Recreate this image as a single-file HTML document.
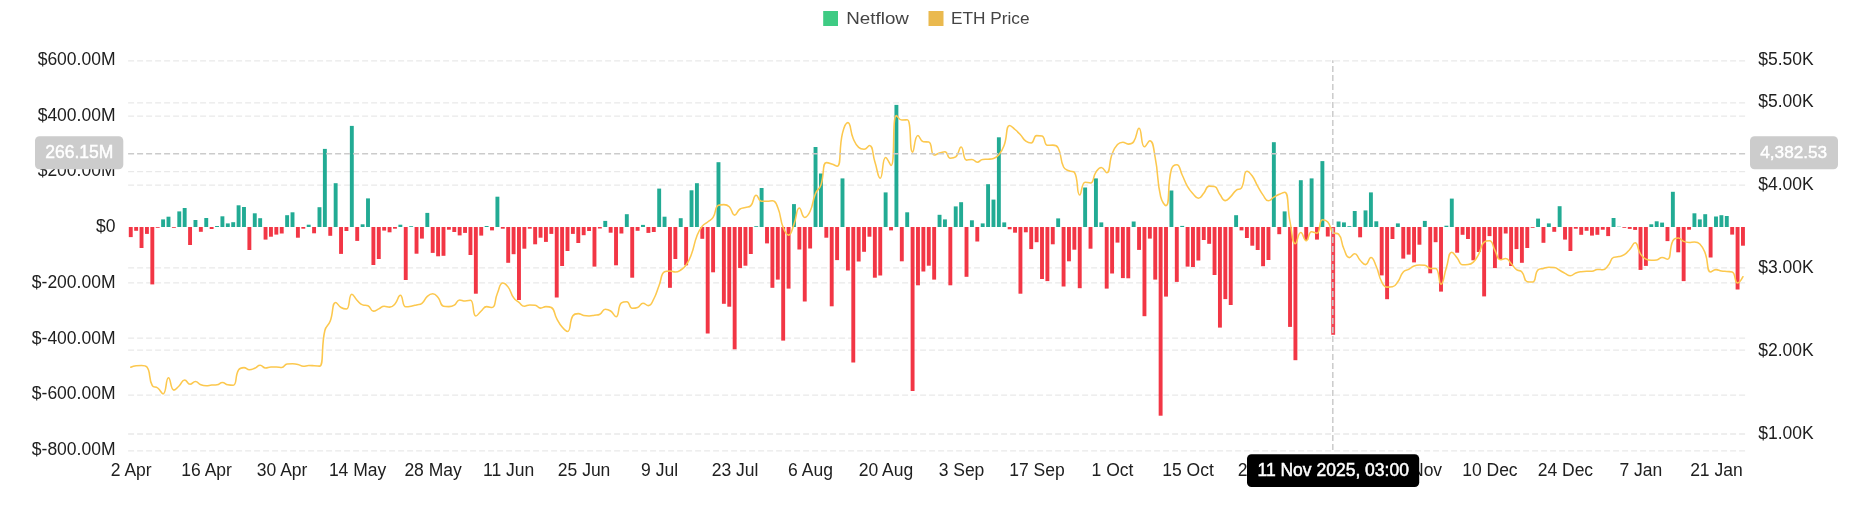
<!DOCTYPE html>
<html lang="en"><head><meta charset="utf-8"><title>Netflow / ETH Price</title>
<style>html,body{margin:0;padding:0;background:#fff;overflow:hidden}svg{display:block;will-change:transform}</style></head>
<body>
<svg width="1852" height="525" viewBox="0 0 1852 525" font-family='"Liberation Sans", Arial, Helvetica, sans-serif'>
<rect width="1852" height="525" fill="#fff"/>
<g stroke="#E9E9E9" stroke-width="1.3" stroke-dasharray="6 3" fill="none">
<path d="M128.1 60.8H1745.2"/>
<path d="M128.1 102.8H1745.2"/>
<path d="M128.1 116.2H1745.2"/>
<path d="M128.1 171.7H1745.2"/>
<path d="M128.1 185.2H1745.2"/>
<path d="M128.1 267.9H1745.2"/>
<path d="M128.1 282.8H1745.2"/>
<path d="M128.1 338.2H1745.2"/>
<path d="M128.1 350.1H1745.2"/>
<path d="M128.1 395.2H1745.2"/>
<path d="M128.1 434.0H1745.2"/>
<path d="M128.1 450.8H1745.2"/>
</g>
<g shape-rendering="auto">
<rect x="128.80" y="227.0" width="3.9" height="10.1" fill="#F23645"/>
<rect x="134.19" y="227.0" width="3.9" height="3.8" fill="#F23645"/>
<rect x="139.58" y="227.0" width="3.9" height="21.0" fill="#F23645"/>
<rect x="144.98" y="227.0" width="3.9" height="6.9" fill="#F23645"/>
<rect x="150.37" y="227.0" width="3.9" height="57.4" fill="#F23645"/>
<rect x="155.76" y="227.0" width="3.9" height="0.8" fill="#F23645"/>
<rect x="161.15" y="219.4" width="3.9" height="7.6" fill="#22AB94"/>
<rect x="166.54" y="216.7" width="3.9" height="10.3" fill="#22AB94"/>
<rect x="171.94" y="227.0" width="3.9" height="0.8" fill="#F23645"/>
<rect x="177.33" y="211.4" width="3.9" height="15.6" fill="#22AB94"/>
<rect x="182.72" y="208.0" width="3.9" height="19.0" fill="#22AB94"/>
<rect x="188.11" y="227.0" width="3.9" height="18.0" fill="#F23645"/>
<rect x="193.50" y="220.0" width="3.9" height="7.0" fill="#22AB94"/>
<rect x="198.90" y="227.0" width="3.9" height="4.8" fill="#F23645"/>
<rect x="204.29" y="218.0" width="3.9" height="9.0" fill="#22AB94"/>
<rect x="209.68" y="227.0" width="3.9" height="2.0" fill="#F23645"/>
<rect x="215.07" y="226.0" width="3.9" height="1.0" fill="#22AB94"/>
<rect x="220.46" y="216.3" width="3.9" height="10.7" fill="#22AB94"/>
<rect x="225.86" y="223.4" width="3.9" height="3.6" fill="#22AB94"/>
<rect x="231.25" y="222.2" width="3.9" height="4.8" fill="#22AB94"/>
<rect x="236.64" y="205.3" width="3.9" height="21.7" fill="#22AB94"/>
<rect x="242.03" y="207.0" width="3.9" height="20.0" fill="#22AB94"/>
<rect x="247.42" y="227.0" width="3.9" height="23.0" fill="#F23645"/>
<rect x="252.82" y="213.3" width="3.9" height="13.7" fill="#22AB94"/>
<rect x="258.21" y="218.2" width="3.9" height="8.8" fill="#22AB94"/>
<rect x="263.60" y="227.0" width="3.9" height="12.6" fill="#F23645"/>
<rect x="268.99" y="227.0" width="3.9" height="9.7" fill="#F23645"/>
<rect x="274.38" y="227.0" width="3.9" height="7.6" fill="#F23645"/>
<rect x="279.78" y="227.0" width="3.9" height="6.5" fill="#F23645"/>
<rect x="285.17" y="215.2" width="3.9" height="11.8" fill="#22AB94"/>
<rect x="290.56" y="212.3" width="3.9" height="14.7" fill="#22AB94"/>
<rect x="295.95" y="227.0" width="3.9" height="10.7" fill="#F23645"/>
<rect x="301.34" y="227.0" width="3.9" height="1.7" fill="#F23645"/>
<rect x="306.74" y="224.7" width="3.9" height="2.3" fill="#22AB94"/>
<rect x="312.13" y="227.0" width="3.9" height="6.3" fill="#F23645"/>
<rect x="317.52" y="207.2" width="3.9" height="19.8" fill="#22AB94"/>
<rect x="322.91" y="148.9" width="3.9" height="78.1" fill="#22AB94"/>
<rect x="328.30" y="227.0" width="3.9" height="8.8" fill="#F23645"/>
<rect x="333.70" y="183.2" width="3.9" height="43.8" fill="#22AB94"/>
<rect x="339.09" y="227.0" width="3.9" height="26.9" fill="#F23645"/>
<rect x="344.48" y="227.0" width="3.9" height="4.0" fill="#F23645"/>
<rect x="349.87" y="125.9" width="3.9" height="101.1" fill="#22AB94"/>
<rect x="355.26" y="227.0" width="3.9" height="13.9" fill="#F23645"/>
<rect x="360.66" y="224.3" width="3.9" height="2.7" fill="#22AB94"/>
<rect x="366.05" y="198.4" width="3.9" height="28.6" fill="#22AB94"/>
<rect x="371.44" y="227.0" width="3.9" height="38.0" fill="#F23645"/>
<rect x="376.83" y="227.0" width="3.9" height="32.0" fill="#F23645"/>
<rect x="382.22" y="227.0" width="3.9" height="3.6" fill="#F23645"/>
<rect x="387.62" y="227.0" width="3.9" height="5.3" fill="#F23645"/>
<rect x="393.01" y="227.0" width="3.9" height="1.7" fill="#F23645"/>
<rect x="398.40" y="224.7" width="3.9" height="2.3" fill="#22AB94"/>
<rect x="403.79" y="227.0" width="3.9" height="53.0" fill="#F23645"/>
<rect x="409.18" y="226.2" width="3.9" height="0.8" fill="#22AB94"/>
<rect x="414.58" y="227.0" width="3.9" height="26.7" fill="#F23645"/>
<rect x="419.97" y="227.0" width="3.9" height="11.6" fill="#F23645"/>
<rect x="425.36" y="212.9" width="3.9" height="14.1" fill="#22AB94"/>
<rect x="430.75" y="227.0" width="3.9" height="25.9" fill="#F23645"/>
<rect x="436.14" y="227.0" width="3.9" height="29.3" fill="#F23645"/>
<rect x="441.54" y="227.0" width="3.9" height="28.8" fill="#F23645"/>
<rect x="446.93" y="227.0" width="3.9" height="2.7" fill="#F23645"/>
<rect x="452.32" y="227.0" width="3.9" height="5.0" fill="#F23645"/>
<rect x="457.71" y="227.0" width="3.9" height="8.4" fill="#F23645"/>
<rect x="463.10" y="227.0" width="3.9" height="5.9" fill="#F23645"/>
<rect x="468.50" y="227.0" width="3.9" height="28.0" fill="#F23645"/>
<rect x="473.89" y="227.0" width="3.9" height="66.7" fill="#F23645"/>
<rect x="479.28" y="227.0" width="3.9" height="8.6" fill="#F23645"/>
<rect x="484.67" y="226.0" width="3.9" height="1.0" fill="#22AB94"/>
<rect x="490.06" y="227.0" width="3.9" height="3.4" fill="#F23645"/>
<rect x="495.46" y="196.7" width="3.9" height="30.3" fill="#22AB94"/>
<rect x="500.85" y="227.0" width="3.9" height="1.7" fill="#F23645"/>
<rect x="506.24" y="227.0" width="3.9" height="35.8" fill="#F23645"/>
<rect x="511.63" y="227.0" width="3.9" height="27.2" fill="#F23645"/>
<rect x="517.02" y="227.0" width="3.9" height="73.0" fill="#F23645"/>
<rect x="522.42" y="227.0" width="3.9" height="21.7" fill="#F23645"/>
<rect x="527.81" y="227.0" width="3.9" height="1.7" fill="#F23645"/>
<rect x="533.20" y="227.0" width="3.9" height="17.3" fill="#F23645"/>
<rect x="538.59" y="227.0" width="3.9" height="10.7" fill="#F23645"/>
<rect x="543.98" y="227.0" width="3.9" height="14.9" fill="#F23645"/>
<rect x="549.38" y="227.0" width="3.9" height="6.9" fill="#F23645"/>
<rect x="554.77" y="227.0" width="3.9" height="70.5" fill="#F23645"/>
<rect x="560.16" y="227.0" width="3.9" height="39.0" fill="#F23645"/>
<rect x="565.55" y="227.0" width="3.9" height="24.0" fill="#F23645"/>
<rect x="570.94" y="227.0" width="3.9" height="6.9" fill="#F23645"/>
<rect x="576.34" y="227.0" width="3.9" height="16.0" fill="#F23645"/>
<rect x="581.73" y="227.0" width="3.9" height="8.2" fill="#F23645"/>
<rect x="587.12" y="227.0" width="3.9" height="4.0" fill="#F23645"/>
<rect x="592.51" y="227.0" width="3.9" height="39.6" fill="#F23645"/>
<rect x="597.90" y="227.0" width="3.9" height="1.5" fill="#F23645"/>
<rect x="603.30" y="220.9" width="3.9" height="6.1" fill="#22AB94"/>
<rect x="608.69" y="227.0" width="3.9" height="5.7" fill="#F23645"/>
<rect x="614.08" y="227.0" width="3.9" height="38.3" fill="#F23645"/>
<rect x="619.47" y="227.0" width="3.9" height="6.5" fill="#F23645"/>
<rect x="624.86" y="214.2" width="3.9" height="12.8" fill="#22AB94"/>
<rect x="630.26" y="227.0" width="3.9" height="50.7" fill="#F23645"/>
<rect x="635.65" y="227.0" width="3.9" height="3.8" fill="#F23645"/>
<rect x="641.04" y="224.9" width="3.9" height="2.1" fill="#22AB94"/>
<rect x="646.43" y="227.0" width="3.9" height="5.9" fill="#F23645"/>
<rect x="651.82" y="227.0" width="3.9" height="5.0" fill="#F23645"/>
<rect x="657.22" y="188.6" width="3.9" height="38.4" fill="#22AB94"/>
<rect x="662.61" y="216.7" width="3.9" height="10.3" fill="#22AB94"/>
<rect x="668.00" y="227.0" width="3.9" height="60.8" fill="#F23645"/>
<rect x="673.39" y="227.0" width="3.9" height="32.0" fill="#F23645"/>
<rect x="678.78" y="218.2" width="3.9" height="8.8" fill="#22AB94"/>
<rect x="684.18" y="227.0" width="3.9" height="38.3" fill="#F23645"/>
<rect x="689.57" y="190.3" width="3.9" height="36.7" fill="#22AB94"/>
<rect x="694.96" y="183.2" width="3.9" height="43.8" fill="#22AB94"/>
<rect x="700.35" y="227.0" width="3.9" height="11.8" fill="#F23645"/>
<rect x="705.74" y="227.0" width="3.9" height="106.5" fill="#F23645"/>
<rect x="711.14" y="227.0" width="3.9" height="45.3" fill="#F23645"/>
<rect x="716.53" y="162.2" width="3.9" height="64.8" fill="#22AB94"/>
<rect x="721.92" y="227.0" width="3.9" height="76.8" fill="#F23645"/>
<rect x="727.31" y="227.0" width="3.9" height="79.7" fill="#F23645"/>
<rect x="732.70" y="227.0" width="3.9" height="122.3" fill="#F23645"/>
<rect x="738.10" y="227.0" width="3.9" height="41.1" fill="#F23645"/>
<rect x="743.49" y="227.0" width="3.9" height="38.7" fill="#F23645"/>
<rect x="748.88" y="227.0" width="3.9" height="27.0" fill="#F23645"/>
<rect x="754.27" y="226.2" width="3.9" height="0.8" fill="#22AB94"/>
<rect x="759.66" y="188.0" width="3.9" height="39.0" fill="#22AB94"/>
<rect x="765.06" y="227.0" width="3.9" height="16.4" fill="#F23645"/>
<rect x="770.45" y="227.0" width="3.9" height="60.8" fill="#F23645"/>
<rect x="775.84" y="227.0" width="3.9" height="52.6" fill="#F23645"/>
<rect x="781.23" y="227.0" width="3.9" height="113.6" fill="#F23645"/>
<rect x="786.62" y="227.0" width="3.9" height="61.6" fill="#F23645"/>
<rect x="792.02" y="204.1" width="3.9" height="22.9" fill="#22AB94"/>
<rect x="797.41" y="227.0" width="3.9" height="22.5" fill="#F23645"/>
<rect x="802.80" y="227.0" width="3.9" height="74.5" fill="#F23645"/>
<rect x="808.19" y="227.0" width="3.9" height="21.5" fill="#F23645"/>
<rect x="813.58" y="147.0" width="3.9" height="80.0" fill="#22AB94"/>
<rect x="818.98" y="173.5" width="3.9" height="53.5" fill="#22AB94"/>
<rect x="824.37" y="227.0" width="3.9" height="10.7" fill="#F23645"/>
<rect x="829.76" y="227.0" width="3.9" height="79.3" fill="#F23645"/>
<rect x="835.15" y="227.0" width="3.9" height="33.1" fill="#F23645"/>
<rect x="840.54" y="178.4" width="3.9" height="48.6" fill="#22AB94"/>
<rect x="845.94" y="227.0" width="3.9" height="43.5" fill="#F23645"/>
<rect x="851.33" y="227.0" width="3.9" height="135.5" fill="#F23645"/>
<rect x="856.72" y="227.0" width="3.9" height="34.5" fill="#F23645"/>
<rect x="862.11" y="227.0" width="3.9" height="24.8" fill="#F23645"/>
<rect x="867.50" y="227.0" width="3.9" height="9.7" fill="#F23645"/>
<rect x="872.90" y="227.0" width="3.9" height="50.7" fill="#F23645"/>
<rect x="878.29" y="227.0" width="3.9" height="48.5" fill="#F23645"/>
<rect x="883.68" y="192.4" width="3.9" height="34.6" fill="#22AB94"/>
<rect x="889.07" y="227.0" width="3.9" height="3.4" fill="#F23645"/>
<rect x="894.46" y="104.9" width="3.9" height="122.1" fill="#22AB94"/>
<rect x="899.86" y="227.0" width="3.9" height="34.3" fill="#F23645"/>
<rect x="905.25" y="212.3" width="3.9" height="14.7" fill="#22AB94"/>
<rect x="910.64" y="227.0" width="3.9" height="164.0" fill="#F23645"/>
<rect x="916.03" y="227.0" width="3.9" height="58.3" fill="#F23645"/>
<rect x="921.42" y="227.0" width="3.9" height="44.5" fill="#F23645"/>
<rect x="926.82" y="227.0" width="3.9" height="38.7" fill="#F23645"/>
<rect x="932.21" y="227.0" width="3.9" height="52.6" fill="#F23645"/>
<rect x="937.60" y="214.8" width="3.9" height="12.2" fill="#22AB94"/>
<rect x="942.99" y="219.4" width="3.9" height="7.6" fill="#22AB94"/>
<rect x="948.38" y="227.0" width="3.9" height="58.3" fill="#F23645"/>
<rect x="953.78" y="206.4" width="3.9" height="20.6" fill="#22AB94"/>
<rect x="959.17" y="202.2" width="3.9" height="24.8" fill="#22AB94"/>
<rect x="964.56" y="227.0" width="3.9" height="49.8" fill="#F23645"/>
<rect x="969.95" y="220.3" width="3.9" height="6.7" fill="#22AB94"/>
<rect x="975.34" y="227.0" width="3.9" height="14.5" fill="#F23645"/>
<rect x="980.74" y="223.4" width="3.9" height="3.6" fill="#22AB94"/>
<rect x="986.13" y="184.2" width="3.9" height="42.8" fill="#22AB94"/>
<rect x="991.52" y="199.6" width="3.9" height="27.4" fill="#22AB94"/>
<rect x="996.91" y="137.3" width="3.9" height="89.7" fill="#22AB94"/>
<rect x="1002.30" y="222.4" width="3.9" height="4.6" fill="#22AB94"/>
<rect x="1007.70" y="227.0" width="3.9" height="2.3" fill="#F23645"/>
<rect x="1013.09" y="227.0" width="3.9" height="5.7" fill="#F23645"/>
<rect x="1018.48" y="227.0" width="3.9" height="66.7" fill="#F23645"/>
<rect x="1023.87" y="227.0" width="3.9" height="5.3" fill="#F23645"/>
<rect x="1029.26" y="227.0" width="3.9" height="22.1" fill="#F23645"/>
<rect x="1034.66" y="227.0" width="3.9" height="15.2" fill="#F23645"/>
<rect x="1040.05" y="227.0" width="3.9" height="52.0" fill="#F23645"/>
<rect x="1045.44" y="227.0" width="3.9" height="54.1" fill="#F23645"/>
<rect x="1050.83" y="227.0" width="3.9" height="17.3" fill="#F23645"/>
<rect x="1056.22" y="218.4" width="3.9" height="8.6" fill="#22AB94"/>
<rect x="1061.62" y="227.0" width="3.9" height="59.5" fill="#F23645"/>
<rect x="1067.01" y="227.0" width="3.9" height="34.3" fill="#F23645"/>
<rect x="1072.40" y="227.0" width="3.9" height="22.7" fill="#F23645"/>
<rect x="1077.79" y="227.0" width="3.9" height="61.2" fill="#F23645"/>
<rect x="1083.18" y="187.5" width="3.9" height="39.5" fill="#22AB94"/>
<rect x="1088.58" y="227.0" width="3.9" height="21.7" fill="#F23645"/>
<rect x="1093.97" y="178.4" width="3.9" height="48.6" fill="#22AB94"/>
<rect x="1099.36" y="222.4" width="3.9" height="4.6" fill="#22AB94"/>
<rect x="1104.75" y="227.0" width="3.9" height="61.6" fill="#F23645"/>
<rect x="1110.14" y="227.0" width="3.9" height="46.5" fill="#F23645"/>
<rect x="1115.54" y="227.0" width="3.9" height="15.6" fill="#F23645"/>
<rect x="1120.93" y="227.0" width="3.9" height="51.1" fill="#F23645"/>
<rect x="1126.32" y="227.0" width="3.9" height="51.3" fill="#F23645"/>
<rect x="1131.71" y="221.5" width="3.9" height="5.5" fill="#22AB94"/>
<rect x="1137.10" y="227.0" width="3.9" height="22.9" fill="#F23645"/>
<rect x="1142.50" y="227.0" width="3.9" height="89.2" fill="#F23645"/>
<rect x="1147.89" y="227.0" width="3.9" height="11.6" fill="#F23645"/>
<rect x="1153.28" y="227.0" width="3.9" height="52.6" fill="#F23645"/>
<rect x="1158.67" y="227.0" width="3.9" height="188.7" fill="#F23645"/>
<rect x="1164.06" y="227.0" width="3.9" height="69.6" fill="#F23645"/>
<rect x="1169.46" y="190.5" width="3.9" height="36.5" fill="#22AB94"/>
<rect x="1174.85" y="227.0" width="3.9" height="54.9" fill="#F23645"/>
<rect x="1180.24" y="225.9" width="3.9" height="1.1" fill="#22AB94"/>
<rect x="1185.63" y="227.0" width="3.9" height="39.6" fill="#F23645"/>
<rect x="1191.02" y="227.0" width="3.9" height="40.0" fill="#F23645"/>
<rect x="1196.42" y="227.0" width="3.9" height="33.5" fill="#F23645"/>
<rect x="1201.81" y="227.0" width="3.9" height="13.0" fill="#F23645"/>
<rect x="1207.20" y="227.0" width="3.9" height="16.8" fill="#F23645"/>
<rect x="1212.59" y="227.0" width="3.9" height="48.0" fill="#F23645"/>
<rect x="1217.98" y="227.0" width="3.9" height="100.6" fill="#F23645"/>
<rect x="1223.38" y="227.0" width="3.9" height="72.1" fill="#F23645"/>
<rect x="1228.77" y="227.0" width="3.9" height="78.0" fill="#F23645"/>
<rect x="1234.16" y="215.2" width="3.9" height="11.8" fill="#22AB94"/>
<rect x="1239.55" y="227.0" width="3.9" height="3.4" fill="#F23645"/>
<rect x="1244.94" y="227.0" width="3.9" height="11.0" fill="#F23645"/>
<rect x="1250.34" y="227.0" width="3.9" height="18.7" fill="#F23645"/>
<rect x="1255.73" y="227.0" width="3.9" height="23.0" fill="#F23645"/>
<rect x="1261.12" y="227.0" width="3.9" height="39.2" fill="#F23645"/>
<rect x="1266.51" y="227.0" width="3.9" height="33.0" fill="#F23645"/>
<rect x="1271.90" y="142.2" width="3.9" height="84.8" fill="#22AB94"/>
<rect x="1277.30" y="227.0" width="3.9" height="7.2" fill="#F23645"/>
<rect x="1282.69" y="211.4" width="3.9" height="15.6" fill="#22AB94"/>
<rect x="1288.08" y="227.0" width="3.9" height="99.9" fill="#F23645"/>
<rect x="1293.47" y="227.0" width="3.9" height="133.2" fill="#F23645"/>
<rect x="1298.86" y="180.2" width="3.9" height="46.8" fill="#22AB94"/>
<rect x="1304.26" y="227.0" width="3.9" height="13.0" fill="#F23645"/>
<rect x="1309.65" y="178.4" width="3.9" height="48.6" fill="#22AB94"/>
<rect x="1315.04" y="227.0" width="3.9" height="12.6" fill="#F23645"/>
<rect x="1320.43" y="161.1" width="3.9" height="65.9" fill="#22AB94"/>
<rect x="1325.82" y="227.0" width="3.9" height="9.5" fill="#F23645"/>
<rect x="1336.61" y="221.5" width="3.9" height="5.5" fill="#22AB94"/>
<rect x="1342.00" y="222.4" width="3.9" height="4.6" fill="#22AB94"/>
<rect x="1347.39" y="226.2" width="3.9" height="0.8" fill="#22AB94"/>
<rect x="1352.78" y="211.0" width="3.9" height="16.0" fill="#22AB94"/>
<rect x="1358.18" y="227.0" width="3.9" height="10.3" fill="#F23645"/>
<rect x="1363.57" y="210.4" width="3.9" height="16.6" fill="#22AB94"/>
<rect x="1368.96" y="192.4" width="3.9" height="34.6" fill="#22AB94"/>
<rect x="1374.35" y="221.3" width="3.9" height="5.7" fill="#22AB94"/>
<rect x="1379.74" y="227.0" width="3.9" height="48.4" fill="#F23645"/>
<rect x="1385.14" y="227.0" width="3.9" height="72.2" fill="#F23645"/>
<rect x="1390.53" y="227.0" width="3.9" height="12.0" fill="#F23645"/>
<rect x="1395.92" y="223.4" width="3.9" height="3.6" fill="#22AB94"/>
<rect x="1401.31" y="227.0" width="3.9" height="31.6" fill="#F23645"/>
<rect x="1406.70" y="227.0" width="3.9" height="27.6" fill="#F23645"/>
<rect x="1412.10" y="227.0" width="3.9" height="35.4" fill="#F23645"/>
<rect x="1417.49" y="227.0" width="3.9" height="17.7" fill="#F23645"/>
<rect x="1422.88" y="220.9" width="3.9" height="6.1" fill="#22AB94"/>
<rect x="1428.27" y="227.0" width="3.9" height="46.3" fill="#F23645"/>
<rect x="1433.66" y="227.0" width="3.9" height="15.2" fill="#F23645"/>
<rect x="1439.06" y="227.0" width="3.9" height="64.6" fill="#F23645"/>
<rect x="1444.45" y="225.7" width="3.9" height="1.3" fill="#22AB94"/>
<rect x="1449.84" y="198.6" width="3.9" height="28.4" fill="#22AB94"/>
<rect x="1455.23" y="227.0" width="3.9" height="25.7" fill="#F23645"/>
<rect x="1460.62" y="227.0" width="3.9" height="7.8" fill="#F23645"/>
<rect x="1466.02" y="227.0" width="3.9" height="12.0" fill="#F23645"/>
<rect x="1471.41" y="227.0" width="3.9" height="33.3" fill="#F23645"/>
<rect x="1476.80" y="227.0" width="3.9" height="25.0" fill="#F23645"/>
<rect x="1482.19" y="227.0" width="3.9" height="69.4" fill="#F23645"/>
<rect x="1487.58" y="227.0" width="3.9" height="9.1" fill="#F23645"/>
<rect x="1492.98" y="227.0" width="3.9" height="41.1" fill="#F23645"/>
<rect x="1498.37" y="227.0" width="3.9" height="32.0" fill="#F23645"/>
<rect x="1503.76" y="227.0" width="3.9" height="6.5" fill="#F23645"/>
<rect x="1509.15" y="227.0" width="3.9" height="39.0" fill="#F23645"/>
<rect x="1514.54" y="227.0" width="3.9" height="22.1" fill="#F23645"/>
<rect x="1519.94" y="227.0" width="3.9" height="35.8" fill="#F23645"/>
<rect x="1525.33" y="227.0" width="3.9" height="21.0" fill="#F23645"/>
<rect x="1530.72" y="227.0" width="3.9" height="0.8" fill="#F23645"/>
<rect x="1536.11" y="218.6" width="3.9" height="8.4" fill="#22AB94"/>
<rect x="1541.50" y="227.0" width="3.9" height="15.8" fill="#F23645"/>
<rect x="1546.90" y="223.4" width="3.9" height="3.6" fill="#22AB94"/>
<rect x="1552.29" y="227.0" width="3.9" height="4.8" fill="#F23645"/>
<rect x="1557.68" y="206.2" width="3.9" height="20.8" fill="#22AB94"/>
<rect x="1563.07" y="227.0" width="3.9" height="12.6" fill="#F23645"/>
<rect x="1568.46" y="227.0" width="3.9" height="24.0" fill="#F23645"/>
<rect x="1573.86" y="227.0" width="3.9" height="1.7" fill="#F23645"/>
<rect x="1579.25" y="227.0" width="3.9" height="7.8" fill="#F23645"/>
<rect x="1584.64" y="227.0" width="3.9" height="3.8" fill="#F23645"/>
<rect x="1590.03" y="227.0" width="3.9" height="8.6" fill="#F23645"/>
<rect x="1595.42" y="227.0" width="3.9" height="7.8" fill="#F23645"/>
<rect x="1600.82" y="227.0" width="3.9" height="2.7" fill="#F23645"/>
<rect x="1606.21" y="227.0" width="3.9" height="9.1" fill="#F23645"/>
<rect x="1611.60" y="218.0" width="3.9" height="9.0" fill="#22AB94"/>
<rect x="1616.99" y="226.7" width="3.9" height="0.3" fill="#22AB94"/>
<rect x="1622.38" y="227.0" width="3.9" height="0.8" fill="#F23645"/>
<rect x="1627.78" y="227.0" width="3.9" height="1.9" fill="#F23645"/>
<rect x="1633.17" y="227.0" width="3.9" height="2.9" fill="#F23645"/>
<rect x="1638.56" y="227.0" width="3.9" height="42.9" fill="#F23645"/>
<rect x="1643.95" y="227.0" width="3.9" height="38.9" fill="#F23645"/>
<rect x="1649.34" y="224.3" width="3.9" height="2.7" fill="#22AB94"/>
<rect x="1654.74" y="221.3" width="3.9" height="5.7" fill="#22AB94"/>
<rect x="1660.13" y="222.6" width="3.9" height="4.4" fill="#22AB94"/>
<rect x="1665.52" y="227.0" width="3.9" height="14.1" fill="#F23645"/>
<rect x="1670.91" y="191.8" width="3.9" height="35.2" fill="#22AB94"/>
<rect x="1676.30" y="227.0" width="3.9" height="25.3" fill="#F23645"/>
<rect x="1681.70" y="227.0" width="3.9" height="54.1" fill="#F23645"/>
<rect x="1687.09" y="227.0" width="3.9" height="2.7" fill="#F23645"/>
<rect x="1692.48" y="213.3" width="3.9" height="13.7" fill="#22AB94"/>
<rect x="1697.87" y="219.4" width="3.9" height="7.6" fill="#22AB94"/>
<rect x="1703.26" y="214.2" width="3.9" height="12.8" fill="#22AB94"/>
<rect x="1708.66" y="227.0" width="3.9" height="30.5" fill="#F23645"/>
<rect x="1714.05" y="216.5" width="3.9" height="10.5" fill="#22AB94"/>
<rect x="1719.44" y="215.2" width="3.9" height="11.8" fill="#22AB94"/>
<rect x="1724.83" y="216.0" width="3.9" height="11.0" fill="#22AB94"/>
<rect x="1730.22" y="227.0" width="3.9" height="7.6" fill="#F23645"/>
<rect x="1735.62" y="227.0" width="3.9" height="62.5" fill="#F23645"/>
<rect x="1741.01" y="227.0" width="3.9" height="18.7" fill="#F23645"/>
<rect x="1331.22" y="227.0" width="3.9" height="107.8" fill="#F34553"/>
</g>
<path d="M130.75 367.20C130.75 367.20 133.40 365.91 136.14 365.70C138.79 365.50 138.89 365.50 141.53 365.50C144.28 365.50 145.72 365.50 146.93 367.00C151.11 372.22 148.17 378.06 152.32 385.70C153.57 388.00 155.43 386.27 157.71 388.00C160.82 390.37 161.38 393.90 163.10 393.90C166.77 393.90 165.48 377.70 168.49 377.70C170.88 377.70 170.33 390.10 173.89 390.10C175.72 390.10 176.74 388.07 179.28 385.70C182.14 383.02 181.79 380.00 184.67 380.00C187.18 380.00 187.20 384.20 190.06 384.20C192.59 384.20 192.82 381.50 195.45 381.50C198.21 381.50 197.95 383.76 200.85 384.80C203.35 385.70 203.53 385.70 206.24 385.70C208.92 385.70 208.93 385.33 211.63 385.10C214.32 384.88 214.44 385.10 217.02 384.80C219.83 384.47 219.72 382.50 222.41 382.50C225.11 382.50 225.00 384.26 227.81 384.80C230.40 385.30 231.85 385.30 233.20 385.30C237.25 385.30 234.62 376.30 238.59 369.90C240.02 367.60 241.27 367.60 243.98 367.60C246.66 367.60 246.63 369.70 249.37 369.70C252.03 369.70 252.19 369.25 254.77 368.20C257.58 367.05 257.44 365.30 260.16 365.30C262.83 365.30 262.73 368.00 265.55 368.00C268.12 368.00 268.22 367.00 270.94 367.00C273.62 367.00 273.64 367.00 276.33 367.00C279.03 367.00 279.25 367.40 281.73 367.40C284.64 367.40 284.20 364.24 287.12 364.00C289.59 363.80 289.82 363.80 292.51 363.80C295.21 363.80 295.28 363.80 297.90 364.40C300.67 365.03 300.53 366.30 303.29 366.30C305.93 366.30 305.98 365.50 308.69 365.50C311.37 365.50 311.38 365.55 314.08 365.70C316.78 365.85 318.77 366.10 319.47 366.10C324.16 366.10 320.73 347.80 324.86 330.50C326.12 325.25 328.31 326.07 330.25 321.00C333.70 312.02 331.75 302.40 335.65 302.40C337.14 302.40 337.96 305.62 341.04 307.50C343.36 308.92 345.02 309.00 346.43 309.00C350.41 309.00 348.29 294.20 351.82 294.20C353.68 294.20 354.28 297.59 357.21 300.50C359.67 302.94 359.59 303.75 362.61 304.90C364.98 305.80 365.74 304.90 368.00 305.80C371.13 307.04 370.34 311.10 373.39 311.10C375.74 311.10 376.13 310.10 378.78 308.90C381.53 307.65 381.35 306.20 384.17 306.20C386.74 306.20 387.05 307.10 389.57 307.10C392.45 307.10 392.90 306.15 394.96 303.90C398.29 300.25 397.95 295.30 400.35 295.30C403.35 295.30 401.96 306.80 405.74 306.80C407.36 306.80 408.47 306.67 411.13 306.20C413.86 305.72 413.85 305.62 416.53 304.90C419.24 304.17 419.82 304.90 421.92 303.30C425.21 300.79 424.09 299.14 427.31 296.30C429.48 294.39 430.15 293.80 432.70 293.80C435.54 293.80 435.97 295.16 438.09 297.60C441.36 301.36 439.97 305.45 443.49 306.20C445.36 306.60 446.22 306.60 448.88 306.60C451.61 306.60 451.98 306.60 454.27 305.20C457.37 303.30 456.54 299.90 459.66 299.90C461.93 299.90 462.34 301.00 465.05 301.00C467.73 301.00 469.12 300.30 470.45 300.30C474.51 300.30 472.10 316.00 475.84 316.00C477.49 316.00 478.46 313.41 481.23 311.00C483.85 308.71 483.60 306.60 486.62 306.60C488.99 306.60 490.59 307.50 492.01 307.50C495.99 307.50 494.33 300.18 497.41 293.20C499.73 287.93 499.40 283.00 502.80 283.00C504.79 283.00 506.22 284.44 508.19 287.10C511.62 291.74 510.24 292.85 513.58 297.60C515.63 300.50 516.16 300.15 518.97 302.40C521.55 304.45 521.44 306.20 524.37 306.20C526.83 306.20 527.03 304.90 529.76 304.90C532.42 304.90 532.62 304.90 535.15 305.20C538.01 305.54 537.73 308.10 540.54 308.10C543.12 308.10 543.21 306.60 545.93 306.60C548.60 306.60 549.67 306.60 551.33 307.50C555.06 309.53 553.75 313.20 556.72 318.60C559.14 323.00 558.92 323.29 562.11 327.10C564.31 329.74 565.92 331.50 567.50 331.50C571.31 331.50 568.89 321.76 572.89 315.70C574.28 313.60 575.57 313.60 578.29 313.60C580.97 313.60 580.91 315.08 583.68 315.50C586.30 315.90 586.38 315.90 589.07 315.90C591.77 315.90 591.79 315.72 594.46 315.30C597.18 314.87 597.55 315.30 599.85 314.20C602.94 312.73 602.20 309.20 605.25 309.20C607.60 309.20 608.37 309.42 610.64 311.00C613.76 313.17 614.17 316.70 616.03 316.70C619.56 316.70 617.48 305.52 621.42 302.80C622.87 301.80 624.69 301.80 626.81 301.80C630.08 301.80 628.93 308.30 632.21 308.30C634.32 308.30 635.21 308.30 637.60 307.50C640.60 306.50 640.09 303.30 642.99 303.30C645.48 303.30 646.18 305.60 648.38 305.60C651.58 305.60 651.81 302.72 653.77 299.00C657.20 292.52 656.44 292.09 659.17 285.20C661.83 278.49 660.64 273.92 664.56 271.80C666.04 271.00 667.26 271.00 669.95 271.00C672.65 271.00 672.71 272.00 675.34 272.00C678.10 272.00 678.37 271.54 680.73 270.00C683.76 268.04 684.09 268.00 686.13 265.00C689.49 260.05 689.41 259.78 691.52 254.10C694.80 245.28 693.53 244.77 696.91 236.00C698.93 230.77 698.93 230.47 702.30 226.10C704.33 223.47 705.06 224.13 707.69 222.00C710.45 219.78 711.22 220.31 713.09 217.40C716.61 211.91 714.65 206.68 718.48 205.20C720.04 204.60 721.26 204.60 723.87 204.60C726.65 204.60 727.28 204.77 729.26 206.70C732.68 210.02 731.68 215.10 734.65 215.10C737.08 215.10 736.85 211.18 740.05 209.00C742.24 207.50 742.77 208.34 745.44 207.50C748.16 206.64 749.05 207.50 750.83 205.60C754.44 201.74 753.03 195.30 756.22 195.30C758.42 195.30 758.39 201.20 761.61 201.20C763.79 201.20 764.31 201.20 767.01 201.20C769.71 201.20 770.32 200.80 772.40 200.80C775.71 200.80 776.21 203.58 777.79 207.50C781.60 216.93 779.46 217.98 783.18 227.50C784.86 231.78 786.23 235.10 788.57 235.10C791.63 235.10 791.72 229.84 793.97 224.20C797.12 216.29 796.06 208.00 799.36 208.00C801.45 208.00 801.67 217.40 804.75 217.40C807.06 217.40 808.50 214.94 810.14 211.30C813.89 202.99 812.04 202.03 815.53 193.50C817.43 188.88 819.29 189.70 820.93 185.00C824.68 174.25 821.98 162.60 826.32 162.60C827.37 162.60 829.07 163.12 831.71 164.00C834.47 164.92 836.30 166.20 837.10 166.20C841.70 166.20 838.51 149.22 842.49 133.10C843.90 127.42 845.68 122.60 847.89 122.60C851.07 122.60 849.90 131.02 853.28 138.80C855.29 143.42 855.22 144.04 858.67 147.40C860.61 149.29 861.56 149.30 864.06 149.30C866.95 149.30 867.95 145.50 869.45 145.50C873.34 145.50 872.17 153.59 874.85 161.70C877.56 169.94 877.82 178.20 880.24 178.20C883.21 178.20 881.91 157.50 885.63 157.50C887.31 157.50 890.15 165.50 891.02 165.50C895.54 165.50 891.68 115.60 896.41 115.60C897.07 115.60 898.77 120.00 901.81 120.00C904.16 120.00 906.44 119.80 907.20 119.80C911.83 119.80 909.08 152.10 912.59 152.10C914.47 152.10 914.32 135.40 917.98 135.40C919.71 135.40 920.11 141.24 923.37 141.70C925.50 142.00 927.27 141.70 928.77 142.00C932.66 142.78 930.32 155.00 934.16 155.00C935.72 155.00 936.81 153.91 939.55 153.10C942.21 152.31 942.79 151.80 944.94 151.80C948.18 151.80 947.09 158.20 950.33 158.20C952.48 158.20 953.95 158.20 955.73 156.90C959.34 154.26 958.73 147.00 961.12 147.00C964.12 147.00 962.61 160.10 966.51 160.10C968.01 160.10 969.36 159.40 971.90 159.40C974.75 159.40 974.60 162.20 977.29 162.20C979.99 162.20 979.83 159.63 982.69 159.40C985.22 159.20 985.40 159.40 988.08 159.20C990.79 159.00 991.01 159.20 993.47 158.40C996.40 157.45 996.89 157.26 998.86 154.80C1002.29 150.51 1002.32 150.16 1004.25 144.90C1007.71 135.51 1005.60 125.50 1009.65 125.50C1010.99 125.50 1012.50 127.31 1015.04 129.50C1017.89 131.96 1017.86 132.03 1020.43 134.80C1023.25 137.83 1022.63 138.67 1025.82 141.10C1028.02 142.77 1029.14 143.00 1031.21 143.00C1034.53 143.00 1033.22 135.60 1036.61 135.60C1038.61 135.60 1040.18 135.60 1042.00 136.10C1045.57 137.08 1043.81 145.30 1047.39 145.30C1049.20 145.30 1050.26 145.10 1052.78 145.10C1055.65 145.10 1056.90 145.41 1058.17 148.00C1062.29 156.36 1059.52 158.45 1063.57 167.00C1064.92 169.85 1066.04 169.37 1068.96 170.80C1071.43 172.02 1073.31 170.80 1074.35 172.30C1078.70 178.55 1076.36 195.00 1079.74 195.00C1081.75 195.00 1081.26 182.20 1085.13 182.20C1086.65 182.20 1088.86 183.00 1090.53 183.00C1094.25 183.00 1092.52 177.01 1095.92 172.10C1097.91 169.21 1098.69 167.40 1101.31 167.40C1104.08 167.40 1105.19 172.70 1106.70 172.70C1110.59 172.70 1108.64 163.03 1112.09 154.00C1114.03 148.93 1113.98 148.34 1117.49 144.50C1119.37 142.44 1120.15 142.20 1122.88 142.20C1125.54 142.20 1125.62 144.10 1128.27 144.10C1131.01 144.10 1132.10 143.99 1133.66 141.70C1137.49 136.09 1136.74 128.30 1139.05 128.30C1142.14 128.30 1140.66 146.80 1144.45 146.80C1146.05 146.80 1148.16 140.70 1149.84 140.70C1153.55 140.70 1153.52 149.08 1155.23 157.90C1158.92 176.98 1156.38 177.74 1160.62 196.50C1161.77 201.59 1164.81 205.60 1166.01 205.60C1170.20 205.60 1166.89 186.44 1171.41 169.30C1172.28 165.99 1174.76 164.70 1176.80 164.70C1180.15 164.70 1179.62 169.79 1182.19 175.00C1185.01 180.74 1184.42 181.08 1187.58 186.60C1189.81 190.48 1189.95 190.51 1192.97 193.80C1195.34 196.36 1195.74 198.30 1198.37 198.30C1201.14 198.30 1201.31 195.97 1203.76 193.20C1206.70 189.87 1205.79 186.10 1209.15 186.10C1211.19 186.10 1212.61 186.10 1214.54 186.50C1218.00 187.21 1217.01 190.68 1219.93 194.50C1222.40 197.73 1222.37 200.60 1225.33 200.60C1227.76 200.60 1228.31 198.90 1230.72 196.60C1233.70 193.75 1232.96 192.84 1236.11 190.30C1238.35 188.49 1240.14 190.30 1241.50 187.90C1245.54 180.76 1243.07 171.20 1246.89 171.20C1248.47 171.20 1250.21 173.11 1252.29 176.00C1255.60 180.61 1254.84 181.18 1257.68 186.20C1260.23 190.73 1260.00 190.94 1263.07 195.10C1265.39 198.24 1265.51 200.80 1268.46 200.80C1270.90 200.80 1271.08 198.87 1273.85 197.20C1276.47 195.62 1276.47 195.59 1279.25 194.30C1281.87 193.09 1283.77 192.20 1284.64 192.20C1289.16 192.20 1286.95 207.08 1290.03 221.80C1292.34 232.83 1291.94 243.70 1295.42 243.70C1297.33 243.70 1297.81 232.60 1300.81 232.60C1303.20 232.60 1303.61 240.80 1306.21 240.80C1309.00 240.80 1308.07 231.70 1311.60 231.70C1313.46 231.70 1315.49 233.20 1316.99 233.20C1320.88 233.20 1318.54 219.70 1322.38 219.70C1323.93 219.70 1325.99 219.87 1327.77 222.00C1331.39 226.32 1329.50 229.41 1333.17 232.60C1334.89 234.10 1337.15 232.60 1338.56 234.10C1342.54 238.35 1340.66 241.84 1343.95 249.00C1346.06 253.59 1346.07 257.60 1349.34 257.60C1351.47 257.60 1352.36 253.80 1354.73 253.80C1357.75 253.80 1357.18 257.25 1360.13 260.20C1362.57 262.65 1363.17 264.60 1365.52 264.60C1368.56 264.60 1368.43 257.40 1370.91 257.40C1373.82 257.40 1374.17 261.68 1376.30 266.50C1379.57 273.88 1378.02 274.77 1381.69 281.80C1383.41 285.07 1383.94 287.10 1387.09 287.10C1389.33 287.10 1390.19 287.10 1392.48 286.80C1395.59 286.39 1395.73 284.74 1397.87 281.80C1401.12 277.34 1399.75 276.04 1403.26 272.00C1405.14 269.84 1406.04 270.85 1408.65 269.40C1411.43 267.85 1411.15 267.16 1414.05 266.00C1416.54 265.00 1416.72 265.00 1419.44 265.00C1422.11 265.00 1422.34 265.00 1424.83 265.20C1427.73 265.43 1427.32 268.40 1430.22 268.40C1432.72 268.40 1434.30 268.40 1435.61 268.40C1439.70 268.40 1438.38 284.30 1441.01 284.30C1443.77 284.30 1443.59 275.86 1446.40 267.50C1448.98 259.81 1448.17 252.20 1451.79 252.20C1453.56 252.20 1454.61 254.99 1457.18 258.00C1460.00 261.29 1459.25 264.80 1462.57 264.80C1464.64 264.80 1465.40 264.80 1467.97 264.60C1470.79 264.38 1471.30 264.10 1473.36 262.10C1476.69 258.85 1476.47 258.33 1478.75 254.10C1481.86 248.33 1480.35 245.18 1484.14 242.10C1485.74 240.80 1487.72 240.80 1489.53 240.80C1493.11 240.80 1492.22 245.56 1494.93 250.30C1497.61 255.01 1496.75 259.70 1500.32 259.70C1502.14 259.70 1503.40 258.50 1505.71 258.50C1508.79 258.50 1508.54 260.87 1511.10 263.50C1513.94 266.42 1513.36 267.16 1516.49 269.60C1518.75 271.36 1520.04 269.81 1521.89 271.90C1525.43 275.91 1523.63 281.38 1527.28 281.80C1529.02 282.00 1531.12 282.00 1532.67 282.00C1536.51 282.00 1534.26 273.15 1538.06 269.80C1539.65 268.40 1540.74 269.03 1543.45 268.40C1546.13 267.78 1546.12 267.30 1548.85 267.30C1551.52 267.30 1551.70 267.30 1554.24 267.50C1557.09 267.73 1556.97 268.84 1559.63 270.30C1562.36 271.79 1562.25 272.01 1565.02 273.40C1567.64 274.71 1567.76 275.70 1570.41 275.70C1573.15 275.70 1573.00 274.04 1575.81 273.00C1578.39 272.04 1578.47 272.11 1581.20 271.70C1583.86 271.30 1583.89 271.30 1586.59 271.30C1589.28 271.30 1589.36 271.30 1591.98 271.30C1594.76 271.30 1594.60 269.40 1597.37 269.40C1599.99 269.40 1600.38 269.80 1602.77 269.80C1605.78 269.80 1605.94 268.15 1608.16 265.60C1611.34 261.95 1610.08 258.84 1613.55 257.40C1615.48 256.60 1616.31 257.26 1618.94 256.60C1621.70 255.91 1622.01 256.25 1624.33 254.70C1627.40 252.65 1627.20 252.21 1629.73 249.40C1632.60 246.21 1632.93 242.70 1635.12 242.70C1638.32 242.70 1637.10 248.92 1640.51 254.10C1642.50 257.12 1642.82 257.63 1645.90 259.10C1648.21 260.20 1648.57 260.20 1651.29 260.20C1653.96 260.20 1654.12 260.20 1656.69 259.90C1659.51 259.57 1659.33 257.40 1662.08 257.40C1664.72 257.40 1666.24 259.30 1667.47 259.30C1671.63 259.30 1668.76 248.90 1672.86 240.80C1674.15 238.25 1675.62 238.00 1678.25 238.00C1681.01 238.00 1680.75 240.19 1683.65 241.40C1686.14 242.44 1686.32 242.50 1689.04 242.50C1691.71 242.50 1691.82 242.00 1694.43 242.00C1697.21 242.00 1697.93 242.04 1699.82 244.00C1703.32 247.64 1703.31 248.26 1705.21 253.20C1708.70 262.26 1706.46 272.00 1710.61 272.00C1711.86 272.00 1713.22 269.60 1716.00 269.60C1718.61 269.60 1718.66 270.42 1721.39 270.90C1724.06 271.37 1724.08 271.22 1726.78 271.50C1729.48 271.77 1730.52 271.50 1732.17 272.00C1735.91 273.13 1734.35 283.00 1737.57 283.00C1739.74 283.00 1742.96 276.70 1742.96 276.70" fill="none" stroke="#FCC84E" stroke-width="1.55" stroke-linejoin="round" stroke-linecap="round"/>
<g stroke="#CBCBCB" stroke-width="1.5" stroke-dasharray="6 3" fill="none">
<path d="M128.1 153.7H1745.2"/>
<path d="M1332.8 450V60.3"/>
</g>
<g font-size="17.5" fill="#202020" text-anchor="end">
<text x="115.5" y="64.7">$600.00M</text>
<text x="115.5" y="120.8">$400.00M</text>
<text x="115.5" y="176.0">$200.00M</text>
<text x="115.5" y="231.8">$0</text>
<text x="115.5" y="287.9">$-200.00M</text>
<text x="115.5" y="343.8">$-400.00M</text>
<text x="115.5" y="398.8">$-600.00M</text>
<text x="115.5" y="454.9">$-800.00M</text>
</g>
<g font-size="17.5" fill="#202020">
<text x="1758.3" y="65.0">$5.50K</text>
<text x="1758.3" y="106.6">$5.00K</text>
<text x="1758.3" y="189.9">$4.00K</text>
<text x="1758.3" y="272.9">$3.00K</text>
<text x="1758.3" y="355.7">$2.00K</text>
<text x="1758.3" y="438.6">$1.00K</text>
</g>
<g font-size="17.5" fill="#202020" text-anchor="middle">
<text x="131.2" y="476.0">2 Apr</text>
<text x="206.6" y="476.0">16 Apr</text>
<text x="282.1" y="476.0">30 Apr</text>
<text x="357.6" y="476.0">14 May</text>
<text x="433.1" y="476.0">28 May</text>
<text x="508.6" y="476.0">11 Jun</text>
<text x="584.1" y="476.0">25 Jun</text>
<text x="659.6" y="476.0">9 Jul</text>
<text x="735.1" y="476.0">23 Jul</text>
<text x="810.5" y="476.0">6 Aug</text>
<text x="886.0" y="476.0">20 Aug</text>
<text x="961.5" y="476.0">3 Sep</text>
<text x="1037.0" y="476.0">17 Sep</text>
<text x="1112.5" y="476.0">1 Oct</text>
<text x="1188.0" y="476.0">15 Oct</text>
<text x="1263.5" y="476.0">29 Oct</text>
<text x="1339.0" y="476.0">12 Nov</text>
<text x="1414.4" y="476.0">26 Nov</text>
<text x="1489.9" y="476.0">10 Dec</text>
<text x="1565.4" y="476.0">24 Dec</text>
<text x="1640.9" y="476.0">7 Jan</text>
<text x="1716.4" y="476.0">21 Jan</text>
</g>
<rect x="35" y="136.2" width="88.3" height="33" rx="4.5" fill="#CCCCCC"/>
<text x="79.3" y="158.1" font-size="17.5" fill="#fff" text-anchor="middle" stroke="#fff" stroke-width="0.45">266.15M</text>
<rect x="1750" y="136.2" width="88" height="33" rx="4.5" fill="#CCCCCC"/>
<text x="1793.7" y="158.1" font-size="17.2" fill="#fff" text-anchor="middle" stroke="#fff" stroke-width="0.45">4,382.53</text>
<rect x="1247" y="454.3" width="172.2" height="32.8" rx="4.5" fill="#000"/>
<text x="1333.2" y="476.1" font-size="17.5" fill="#fff" text-anchor="middle" stroke="#fff" stroke-width="0.5">11 Nov 2025, 03:00</text>
<rect x="823.2" y="11" width="14.8" height="15" fill="#3ECB83"/>
<text x="846.3" y="24" font-size="17" fill="#444" textLength="62.6" lengthAdjust="spacingAndGlyphs">Netflow</text>
<rect x="928.5" y="11" width="15" height="15" fill="#EAB94E"/>
<text x="950.9" y="24" font-size="17" fill="#444" textLength="78.6" lengthAdjust="spacingAndGlyphs">ETH Price</text>
</svg>
</body></html>
